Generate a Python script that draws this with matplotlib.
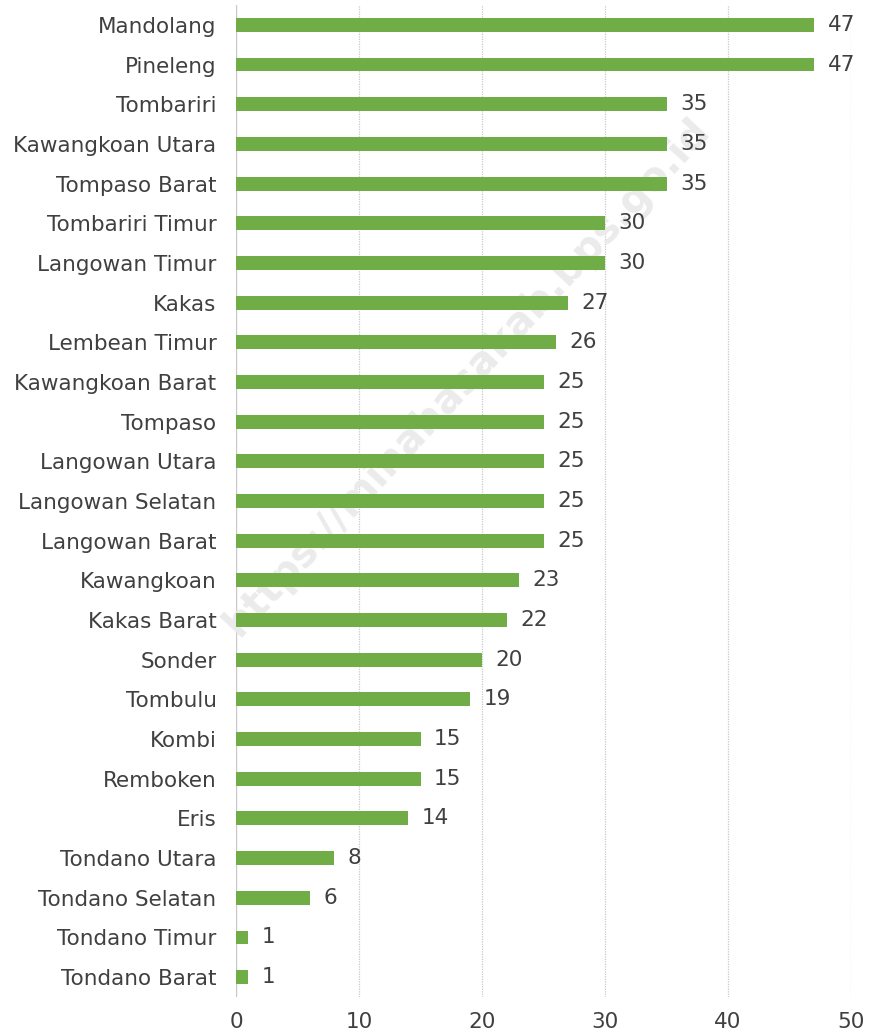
import matplotlib
matplotlib.use("Agg")
import matplotlib.pyplot as plt

categories = ["Mandolang", "Pineleng", "Tombariri", "Kawangkoan Utara", "Tompaso Barat",
              "Tombariri Timur", "Langowan Timur", "Kakas", "Lembean Timur", "Kawangkoan Barat",
              "Tompaso", "Langowan Utara", "Langowan Selatan", "Langowan Barat", "Kawangkoan",
              "Kakas Barat", "Sonder", "Tombulu", "Kombi", "Remboken", "Eris",
              "Tondano Utara", "Tondano Selatan", "Tondano Timur", "Tondano Barat"]
values = [47, 47, 35, 35, 35, 30, 30, 27, 26, 25, 25, 25, 25, 25, 23, 22, 20, 19, 15, 15, 14, 8, 6, 1, 1]
xticks = [0, 10, 20, 30, 40, 50]

plt.rcParams['font.family'] = ['DejaVu Sans']
txt = '#404040'
fs = 15.5

fig = plt.figure(figsize=(8.73, 10.32), dpi=100)
ax = fig.add_axes([236/873, 35/1032, 615/873, 992/1032])

y = list(range(len(categories)))
ax.barh(y, values, height=0.35, color='#70AD47', zorder=3)
for yi, v in zip(y, values):
    ax.text(v + 1.1, yi, str(v), va='center', ha='left', fontsize=fs, color=txt, zorder=4)

ax.set_xlim(0, 50)
ax.set_ylim(len(categories) - 0.5, -0.5)
ax.set_yticks(y)
ax.set_yticklabels(categories, fontsize=fs, color=txt)
ax.set_xticks(xticks)
ax.set_xticklabels([str(t) for t in xticks], fontsize=fs, color=txt)
ax.tick_params(axis='both', length=0)
ax.tick_params(axis='y', pad=14)
ax.tick_params(axis='x', pad=11)
for s in ax.spines.values():
    s.set_visible(False)
ax.grid(axis='x', color='#c8c8c8', linestyle=(0, (1, 1)), linewidth=0.9, zorder=0)
ax.axvline(0, color='#c8c8c8', linewidth=0.9, zorder=1)

ax.text(0.535, 0.635, "https://minahasakab.bps.go.id", rotation=47, fontsize=29,
        color='#ebebeb', ha='center', va='center', fontweight='bold', zorder=2,
        transform=fig.transFigure, rotation_mode='anchor')

fig.savefig("out.png", dpi=100)
